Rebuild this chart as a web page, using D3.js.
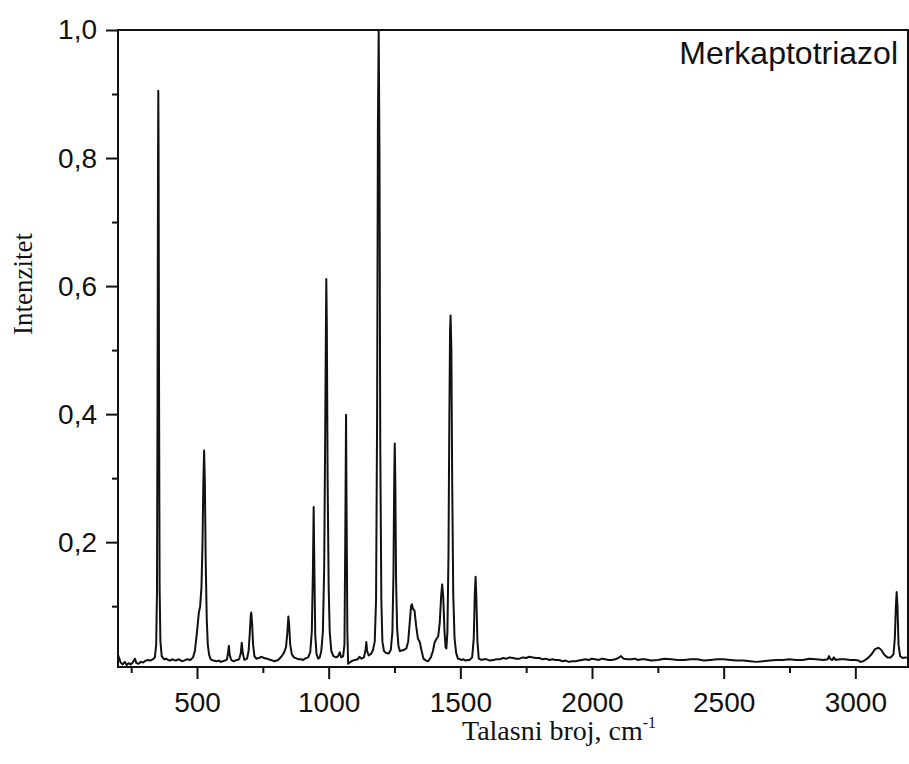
<!DOCTYPE html>
<html>
<head>
<meta charset="utf-8">
<script src="https://d3js.org/d3.v7.min.js"></script>
<style>
body {
  margin: 0;
  background: white;
}
svg {
  display: block;
}
</style>
</head>
<body>
<div id="chart"></div>

<script>
// Spectrum: [wave number (cm-1), intensity]
const spectrum = [
  [200,0.024],[205,0.018],[210,0.012],[218,0.009],[226,0.013],[233,0.008],[240,0.011],[248,0.009],
  [256,0.012],[264,0.018],[270,0.011],[278,0.010],[287,0.013],[296,0.012],[305,0.015],[314,0.016],
  [322,0.015],[332,0.017],[340,0.020],[345,0.040],[348,0.120],[350,0.400],[352,0.800],[353,0.905],
  [354,0.820],[356,0.420],[358,0.130],[361,0.045],[366,0.022],[375,0.017],[383,0.018],[390,0.016],
  [398,0.015],[405,0.017],[412,0.016],[420,0.015],[428,0.017],[435,0.016],[443,0.014],[450,0.015],
  [462,0.017],[475,0.016],[485,0.020],[492,0.030],[500,0.060],[507,0.090],[512,0.100],[517,0.130],
  [521,0.200],[524,0.290],[527,0.343],[530,0.290],[533,0.170],[537,0.080],[541,0.040],[546,0.024],
  [552,0.017],[562,0.015],[575,0.014],[583,0.015],[590,0.013],[598,0.014],[605,0.015],[614,0.017],
  [618,0.028],[621,0.038],[624,0.024],[630,0.016],[638,0.014],[645,0.015],[652,0.016],[660,0.017],
  [666,0.026],[670,0.043],[674,0.026],[680,0.016],[690,0.018],[696,0.030],[700,0.055],[704,0.085],
  [706,0.090],[709,0.075],[713,0.040],[718,0.022],[725,0.018],[735,0.019],[746,0.021],[755,0.019],
  [765,0.018],[772,0.017],[780,0.016],[788,0.015],[795,0.014],[808,0.016],[820,0.021],[830,0.027],
  [838,0.036],[843,0.058],[847,0.084],[850,0.070],[854,0.040],[860,0.025],[868,0.020],[880,0.018],
  [888,0.017],[895,0.017],[903,0.016],[910,0.018],[922,0.020],[930,0.028],[936,0.060],[940,0.150],
  [943,0.255],[946,0.150],[949,0.055],[954,0.025],[960,0.018],[966,0.020],[972,0.030],[978,0.060],
  [983,0.160],[987,0.380],[990,0.560],[991,0.611],[993,0.540],[996,0.300],[1000,0.130],[1004,0.060],
  [1010,0.030],[1018,0.022],[1028,0.020],[1036,0.022],[1042,0.028],[1048,0.020],[1055,0.022],[1060,0.040],
  [1063,0.200],[1066,0.399],[1068,0.250],[1071,0.060],[1074,0.010],[1080,0.012],[1090,0.015],[1100,0.016],
  [1110,0.017],[1117,0.021],[1125,0.018],[1134,0.020],[1140,0.032],[1143,0.044],[1146,0.030],[1152,0.023],
  [1160,0.025],[1168,0.031],[1175,0.045],[1180,0.110],[1184,0.400],[1187,0.850],[1190,1.000],[1193,0.800],
  [1196,0.350],[1200,0.110],[1204,0.045],[1210,0.030],[1218,0.027],[1228,0.026],[1236,0.032],[1242,0.060],
  [1246,0.150],[1249,0.300],[1251,0.354],[1253,0.300],[1256,0.140],[1260,0.065],[1265,0.038],[1270,0.030],
  [1282,0.031],[1295,0.034],[1302,0.045],[1308,0.075],[1313,0.100],[1316,0.103],[1320,0.096],[1326,0.093],
  [1332,0.070],[1339,0.049],[1346,0.044],[1352,0.032],[1360,0.018],[1370,0.015],[1378,0.014],[1388,0.020],
  [1396,0.030],[1402,0.043],[1408,0.048],[1416,0.053],[1422,0.075],[1427,0.115],[1431,0.134],[1435,0.115],
  [1440,0.060],[1444,0.036],[1447,0.034],[1451,0.060],[1455,0.180],[1458,0.380],[1461,0.530],[1463,0.554],
  [1466,0.500],[1469,0.300],[1473,0.120],[1478,0.050],[1484,0.027],[1491,0.018],[1498,0.017],[1505,0.016],
  [1512,0.017],[1520,0.015],[1528,0.016],[1535,0.016],[1545,0.020],[1551,0.050],[1555,0.120],[1558,0.146],
  [1561,0.110],[1565,0.045],[1570,0.018],[1580,0.016],[1590,0.017],[1600,0.017],[1612,0.015],[1625,0.016],
  [1638,0.017],[1650,0.017],[1662,0.019],[1675,0.018],[1688,0.020],[1700,0.019],[1712,0.018],[1725,0.018],
  [1738,0.020],[1750,0.019],[1762,0.021],[1775,0.020],[1788,0.019],[1800,0.019],[1812,0.017],[1825,0.018],
  [1838,0.016],[1850,0.017],[1862,0.016],[1875,0.016],[1888,0.014],[1900,0.015],[1912,0.013],[1925,0.014],
  [1938,0.014],[1950,0.015],[1962,0.016],[1975,0.017],[1988,0.016],[2000,0.018],[2012,0.017],[2025,0.016],
  [2038,0.018],[2050,0.017],[2062,0.016],[2075,0.016],[2088,0.017],[2100,0.019],[2110,0.022],[2120,0.018],
  [2135,0.017],[2150,0.017],[2162,0.018],[2175,0.016],[2188,0.017],[2200,0.017],[2225,0.015],[2250,0.016],
  [2275,0.018],[2300,0.017],[2325,0.016],[2350,0.016],[2375,0.017],[2400,0.017],[2425,0.015],[2450,0.016],
  [2475,0.017],[2500,0.017],[2525,0.016],[2550,0.015],[2575,0.015],[2600,0.014],[2625,0.013],[2650,0.014],
  [2675,0.015],[2700,0.016],[2725,0.016],[2750,0.017],[2775,0.016],[2800,0.016],[2825,0.018],[2850,0.017],
  [2880,0.016],[2895,0.017],[2900,0.022],[2906,0.017],[2913,0.016],[2918,0.020],[2925,0.016],[2940,0.017],
  [2960,0.017],[2980,0.016],[3000,0.016],[3012,0.015],[3020,0.013],[3030,0.014],[3045,0.018],[3060,0.024],
  [3075,0.033],[3088,0.035],[3098,0.032],[3110,0.024],[3122,0.020],[3135,0.020],[3145,0.025],[3150,0.050],
  [3154,0.100],[3157,0.122],[3160,0.100],[3164,0.040],[3170,0.022],[3180,0.019],[3190,0.020],[3200,0.019]
];

const xMajorTicks = [500, 1000, 1500, 2000, 2500, 3000];
const xMinorTicks = [250, 750, 1250, 1750, 2250, 2750];
const yMajorTicks = [0.2, 0.4, 0.6, 0.8, 1.0];
const yMinorTicks = [0.1, 0.3, 0.5, 0.7, 0.9];

const xDomain = [200, 3200];
const yDomain = [0.005, 1.0];

const title = "Merkaptotriazol";
const xTitle = "Talasni broj, cm";
const xTitleSup = "-1";
const yTitle = "Intenzitet";

// SVG and margins
const svg = d3.select("#chart")
  .append("svg")
  .attr("width", 909)
  .attr("height", 764);
const margin = { top: 30, bottom: 97, left: 118, right: 1 };
const width = 909 - margin.left - margin.right;
const height = 764 - margin.top - margin.bottom;
const chart = svg.append("g").attr("transform", `translate(${margin.left},${margin.top})`);

// Scales
const xScale = d3.scaleLinear().domain(xDomain).range([0, width]);
const yScale = d3.scaleLinear().domain(yDomain).range([height, 0]);

const comma = d => d3.format(".1f")(d).replace(".", ",");

// clip so the tallest peak stops at the frame
chart.append("clipPath").attr("id", "plotclip")
  .append("rect")
  .attr("width", width)
  .attr("height", height);

// Spectrum line
const line = d3.line()
  .x(d => xScale(d[0]))
  .y(d => yScale(d[1]));

chart.append("path")
  .datum(spectrum)
  .attr("clip-path", "url(#plotclip)")
  .attr("fill", "none")
  .attr("stroke", "#111")
  .attr("stroke-width", 2)
  .attr("stroke-linejoin", "round")
  .attr("d", line);

// X axis (major + minor)
chart.append("g")
  .attr("transform", `translate(0,${height})`)
  .call(d3.axisBottom(xScale)
    .tickValues(xMajorTicks)
    .tickSize(12)
    .tickPadding(13)
    .tickFormat(d3.format("d")));
chart.append("g")
  .attr("transform", `translate(0,${height})`)
  .call(d3.axisBottom(xScale)
    .tickValues(xMinorTicks)
    .tickSize(6)
    .tickFormat(""));

// Y axis (major + minor)
chart.append("g")
  .call(d3.axisLeft(yScale)
    .tickValues(yMajorTicks)
    .tickSize(12)
    .tickPadding(9)
    .tickFormat(comma));
chart.append("g")
  .call(d3.axisLeft(yScale)
    .tickValues(yMinorTicks)
    .tickSize(6)
    .tickFormat(""));

chart.selectAll(".domain").remove();
chart.selectAll(".tick line")
  .attr("stroke", "#111")
  .attr("stroke-width", 2);
chart.selectAll(".tick text")
  .attr("fill", "#111")
  .style("font-family", "'Liberation Sans', Arial, sans-serif")
  .style("font-size", "28px");

// Frame
chart.append("rect")
  .attr("width", width)
  .attr("height", height)
  .attr("fill", "none")
  .attr("stroke", "#111")
  .attr("stroke-width", 2);

// Title in the corner
chart.append("text")
  .attr("x", width - 10)
  .attr("y", 34)
  .attr("text-anchor", "end")
  .style("font-family", "'Liberation Sans', Arial, sans-serif")
  .style("font-size", "32px")
  .attr("fill", "#111")
  .text(title);

// Axis titles
const xt = svg.append("text")
  .attr("x", 462)
  .attr("y", 740)
  .style("font-family", "'Liberation Serif', 'Times New Roman', serif")
  .style("font-size", "28px")
  .attr("fill", "#111");
xt.append("tspan").text(xTitle);
xt.append("tspan")
  .attr("dy", -12)
  .style("font-size", "16px")
  .text(xTitleSup);

svg.append("text")
  .attr("transform", "translate(32,284) rotate(-90)")
  .attr("text-anchor", "middle")
  .style("font-family", "'Liberation Serif', 'Times New Roman', serif")
  .style("font-size", "27px")
  .attr("fill", "#111")
  .text(yTitle);
</script>
</body>
</html>
